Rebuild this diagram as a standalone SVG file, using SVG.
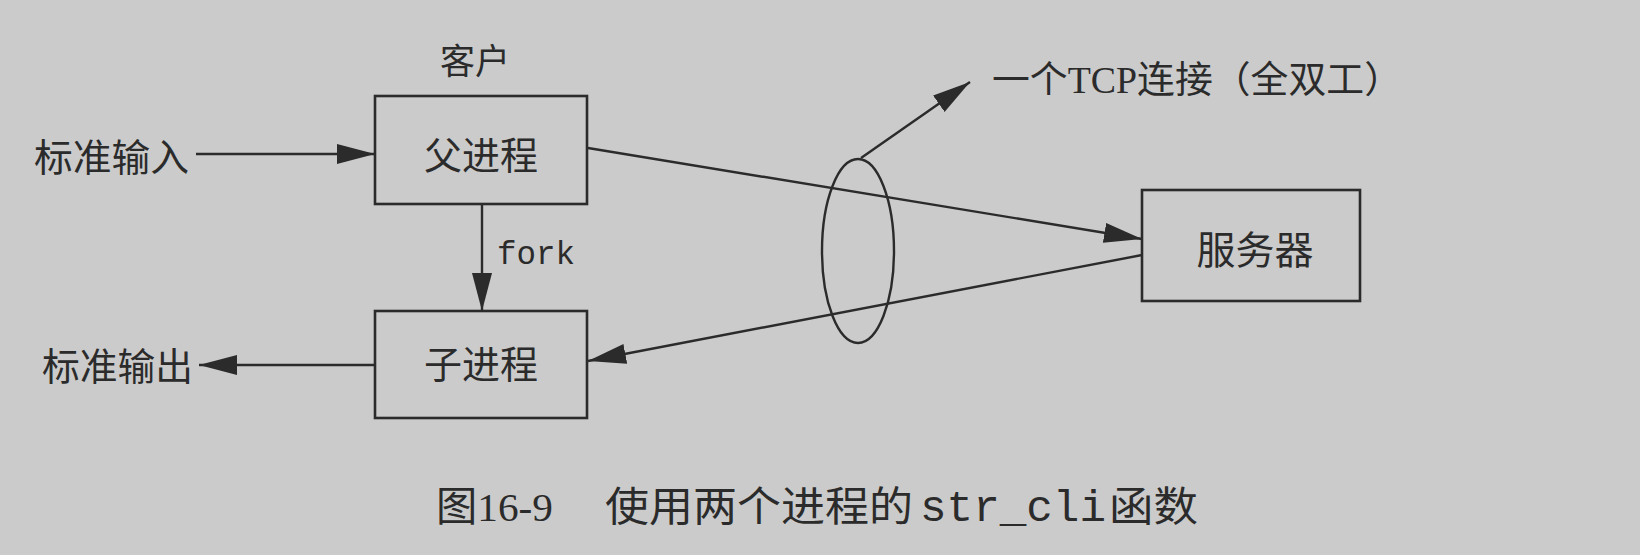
<svg xmlns="http://www.w3.org/2000/svg" width="1640" height="555" viewBox="0 0 1640 555">
  <style>
    .bg { fill: #cbcbcb; }
    .box { fill: none; stroke: #2b2b2b; stroke-width: 2.6; }
    .conn { fill: none; stroke: #2b2b2b; stroke-width: 2.4; }
    .cjk { font-family: "Liberation Serif", "Noto Sans CJK SC", serif; fill: #2b2b2b; }
    .mono { font-family: "Liberation Mono", "Noto Sans CJK SC", monospace; fill: #2b2b2b; }
  </style>
  <defs>
    <marker id="arrow" markerUnits="userSpaceOnUse" markerWidth="42" markerHeight="24" refX="38" refY="10" orient="auto">
      <path d="M0,0 L38,10 L0,20 Z" fill="#2b2b2b"/>
    </marker>
  </defs>
  <rect class="bg" x="0" y="0" width="1640" height="555"/>

  <g id="label-client">
    <text class="cjk" x="440" y="74" font-size="35" textLength="70" lengthAdjust="spacingAndGlyphs">客户</text>
  </g>

  <g id="node-parent">
    <rect class="box" x="375" y="96" width="212" height="108"/>
    <text class="cjk" x="481" y="169" font-size="38" text-anchor="middle">父进程</text>
  </g>

  <g id="node-child">
    <rect class="box" x="375" y="311" width="212" height="107"/>
    <text class="cjk" x="481" y="378" font-size="38" text-anchor="middle">子进程</text>
  </g>

  <g id="node-server">
    <rect class="box" x="1142" y="190" width="218" height="111"/>
    <text class="cjk" x="1255" y="264" font-size="39" text-anchor="middle">服务器</text>
  </g>

  <g id="label-stdin">
    <text class="cjk" x="34" y="171" font-size="38" textLength="155" lengthAdjust="spacingAndGlyphs">标准输入</text>
  </g>

  <g id="label-stdout">
    <text class="cjk" x="42" y="380" font-size="38" textLength="151" lengthAdjust="spacingAndGlyphs">标准输出</text>
  </g>

  <g id="label-tcp">
    <text class="cjk" x="992" y="93" font-size="37" textLength="410" lengthAdjust="spacingAndGlyphs">一个TCP连接（全双工）</text>
  </g>

  <g id="connection-ellipse">
    <ellipse class="conn" cx="858" cy="251" rx="36" ry="92"/>
  </g>

  <g id="connectors">
    <line class="conn" x1="196" y1="154" x2="375" y2="154" marker-end="url(#arrow)"/>
    <line class="conn" x1="375" y1="365" x2="199" y2="365" marker-end="url(#arrow)"/>
    <line class="conn" x1="482" y1="204" x2="482" y2="311" marker-end="url(#arrow)"/>
    <text class="mono" x="497" y="264" font-size="33" textLength="78" lengthAdjust="spacingAndGlyphs">fork</text>
    <line class="conn" x1="588" y1="148" x2="1142" y2="239" marker-end="url(#arrow)"/>
    <line class="conn" x1="1142" y1="255" x2="588" y2="361" marker-end="url(#arrow)"/>
    <line class="conn" x1="861" y1="158" x2="970" y2="82" marker-end="url(#arrow)"/>
  </g>

  <g id="caption">
    <text class="cjk" x="436" y="521" font-size="41" textLength="117" lengthAdjust="spacingAndGlyphs">图16-9</text>
    <text class="cjk" x="605" y="521" font-size="41" textLength="308" lengthAdjust="spacingAndGlyphs">使用两个进程的</text>
    <text class="mono" x="920" y="521" font-size="45" textLength="186" lengthAdjust="spacingAndGlyphs">str_cli</text>
    <text class="cjk" x="1109" y="521" font-size="41" textLength="89" lengthAdjust="spacingAndGlyphs">函数</text>
  </g>
</svg>
